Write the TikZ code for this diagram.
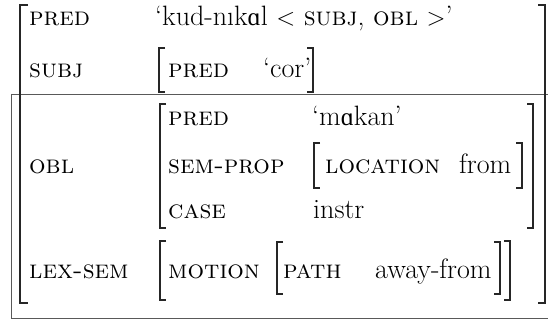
\documentclass[tikz,border=0pt]{standalone}
\usepackage{fontspec}
\newfontfamily\ipafont[Scale=0.9]{Liberation Serif}
\newcommand{\alp}{{\ipafont ɑ}}
\newcommand{\feat}[1]{{\fontsize{26}{31}\selectfont\textsc{#1}}}
\begin{document}
\begin{tikzpicture}[x=1pt,y=-1pt,
  txt/.style={anchor=base west,inner sep=0pt,font=\fontsize{28}{33}\selectfont},
  brk/.style={line width=1.8pt,black!85},
  boxln/.style={line width=0.9pt,black!65}]
\useasboundingbox (0,0) rectangle (549,320);
% box around lower part
\draw[boxln] (11.5,94) -- (548,94);
\draw[boxln] (11.5,94) -- (11.5,318) -- (548,318);
% outer brackets
\draw[brk] (28,5) -- (20,5) -- (20,303) -- (28,303);
\draw[brk] (538,5) -- (545,5) -- (545,303) -- (538,303);
% SUBJ bracket
\draw[brk] (165,48) -- (159,48) -- (159,92) -- (165,92);
\draw[brk] (307,48) -- (313,48) -- (313,92) -- (307,92);
% OBL bracket
\draw[brk] (166,104) -- (160,104) -- (160,228) -- (166,228);
\draw[brk] (527,104) -- (533,104) -- (533,228) -- (527,228);
% LOCATION bracket
\draw[brk] (320,143) -- (314,143) -- (314,188) -- (320,188);
\draw[brk] (516,143) -- (522,143) -- (522,188) -- (516,188);
% MOTION bracket
\draw[brk] (166,241) -- (160,241) -- (160,300) -- (166,300);
\draw[brk] (504,241) -- (510,241) -- (510,300) -- (504,300);
% PATH bracket
\draw[brk] (283,242) -- (277,242) -- (277,294) -- (283,294);
\draw[brk] (494,242) -- (500,242) -- (500,294) -- (494,294);
% texts
\node[txt] (f1) at (29,26) {\feat{pred}};
\node[txt] (v1) at (155,26) {`kud-n\i k\alp l $<$ \feat{subj}, \feat{obl} $>$'};
\node[txt] (f2) at (29,78) {\feat{subj}};
\node[txt] (f2a) at (168,78) {\feat{pred}};
\node[txt] (v2a) at (263,78) {`cor'};
\node[txt] (f3) at (29,174) {\feat{obl}};
\node[txt] (f3a) at (168,126) {\feat{pred}};
\node[txt] (v3a) at (312,126) {`m\alp kan'};
\node[txt] (f3b) at (168,174) {\feat{sem-prop}};
\node[txt] (f3c) at (325,174) {\feat{location}};
\node[txt] (v3c) at (459,174) {from};
\node[txt] (f3d) at (168,219) {\feat{case}};
\node[txt] (v3d) at (313,219) {instr};
\node[txt] (f4) at (29,279) {\feat{lex-sem}};
\node[txt] (f4a) at (168,279) {\feat{motion}};
\node[txt] (f4b) at (283,279) {\feat{path}};
\node[txt] (v4b) at (375,279) {away-from};
\end{tikzpicture}
\end{document}
